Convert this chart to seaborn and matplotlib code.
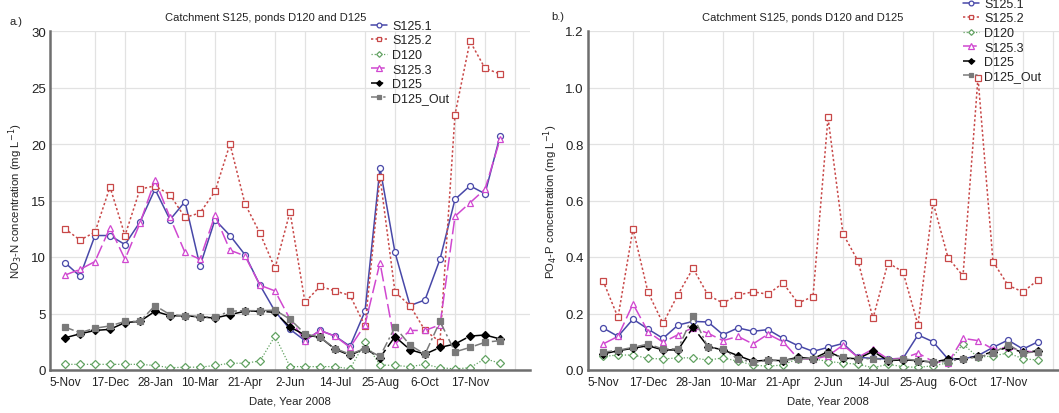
import numpy as np
import pandas as pd
import matplotlib
matplotlib.use("Agg")
import matplotlib.pyplot as plt
import seaborn as sns

# ---------------- data ----------------
dates = pd.date_range("2007-11-05", periods=30, freq="14D")
tick_labels = ["5-Nov", "17-Dec", "28-Jan", "10-Mar", "21-Apr", "2-Jun",
               "14-Jul", "25-Aug", "6-Oct", "17-Nov"]

series_names = ["S125.1", "S125.2", "D120", "S125.3", "D125", "D125_Out"]

# NO3-N (mg/L)
no3_s125_1 = [9.5, 8.3, 11.9, 11.9, 11.1, 13.1, 16.0, 13.3, 14.9, 9.2,
              13.3, 11.9, 10.2, 7.5, 5.2, 3.6, 2.6, 3.5, 3.0, 2.1,
              5.2, 17.9, 10.4, 5.7, 6.2, 9.8, 15.1, 16.3, 15.6, 20.7]
no3_s125_2 = [12.5, 11.5, 12.2, 16.2, 11.9, 16.0, 16.3, 15.5, 13.5, 13.9,
              15.8, 20.0, 14.7, 12.1, 9.0, 14.0, 6.0, 7.4, 7.0, 6.6,
              3.9, 17.1, 6.9, 5.7, 3.5, 2.5, 22.6, 29.1, 26.7, 26.2]
no3_d120 = [0.5, 0.5, 0.5, 0.5, 0.5, 0.5, 0.4, 0.2, 0.25, 0.25,
            0.4, 0.6, 0.6, 0.8, 3.0, 0.3, 0.3, 0.3, 0.3, 0.1,
            2.45, 0.45, 0.4, 0.3, 0.5, 0.2, 0.1, 0.2, 1.0, 0.6]
no3_s125_3 = [8.4, 8.9, 9.6, 12.6, 9.8, 13.0, 16.8, 13.5, 10.4, 9.8,
              13.7, 10.6, 10.1, 7.5, 7.0, 4.5, 2.6, 3.5, 3.0, 2.0,
              4.0, 9.5, 2.3, 3.5, 3.5, 4.0, 13.6, 14.8, 16.0, 20.4]
no3_d125 = [2.85, 3.2, 3.5, 3.6, 4.2, 4.3, 5.2, 4.8, 4.8, 4.7,
            4.6, 4.9, 5.2, 5.2, 5.1, 3.8, 3.1, 2.9, 1.85, 1.3,
            1.9, 1.1, 2.95, 1.8, 1.4, 2.0, 2.3, 3.0, 3.1, 2.75]
no3_d125_out = [3.8, 3.3, 3.7, 3.9, 4.3, 4.3, 5.7, 4.9, 4.8, 4.7,
                4.7, 5.2, 5.25, 5.25, 5.3, 4.5, 3.2, 2.9, 1.9, 1.4,
                1.9, 1.2, 3.8, 2.2, 1.4, 4.3, 1.6, 2.0, 2.45, 2.6]

# PO4-P (mg/L)
po4_s125_1 = [0.149, 0.119, 0.180, 0.145, 0.112, 0.159, 0.172, 0.170, 0.125, 0.149,
              0.137, 0.143, 0.112, 0.086, 0.066, 0.080, 0.094, 0.045, 0.041, 0.039,
              0.041, 0.124, 0.100, 0.039, 0.039, 0.051, 0.080, 0.106, 0.074, 0.100]
po4_s125_2 = [0.316, 0.186, 0.500, 0.275, 0.165, 0.267, 0.360, 0.265, 0.237, 0.265,
              0.277, 0.268, 0.308, 0.237, 0.260, 0.894, 0.482, 0.386, 0.183, 0.380,
              0.347, 0.160, 0.594, 0.398, 0.333, 1.035, 0.384, 0.300, 0.276, 0.319]
po4_d120 = [0.048, 0.053, 0.053, 0.041, 0.039, 0.043, 0.043, 0.035, 0.043, 0.031,
            0.018, 0.013, 0.018, 0.040, 0.040, 0.030, 0.025, 0.020, 0.008, 0.020,
            0.012, 0.009, 0.015, 0.025, 0.092, 0.045, 0.050, 0.060, 0.040, 0.035]
po4_s125_3 = [0.092, 0.119, 0.234, 0.136, 0.098, 0.125, 0.150, 0.130, 0.104, 0.119,
              0.092, 0.127, 0.100, 0.041, 0.038, 0.050, 0.088, 0.045, 0.074, 0.039,
              0.041, 0.060, 0.030, 0.025, 0.112, 0.104, 0.074, 0.080, 0.068, 0.062]
po4_d125 = [0.057, 0.068, 0.077, 0.086, 0.071, 0.071, 0.151, 0.083, 0.071, 0.051,
            0.031, 0.035, 0.033, 0.045, 0.040, 0.065, 0.042, 0.040, 0.066, 0.033,
            0.036, 0.033, 0.028, 0.038, 0.040, 0.048, 0.065, 0.080, 0.062, 0.068]
po4_d125_out = [0.063, 0.070, 0.080, 0.092, 0.074, 0.075, 0.192, 0.080, 0.074, 0.040,
                0.027, 0.034, 0.034, 0.040, 0.040, 0.055, 0.045, 0.040, 0.040, 0.035,
                0.040, 0.033, 0.028, 0.030, 0.040, 0.045, 0.060, 0.090, 0.060, 0.065]

no3_values = [no3_s125_1, no3_s125_2, no3_d120, no3_s125_3, no3_d125, no3_d125_out]
po4_values = [po4_s125_1, po4_s125_2, po4_d120, po4_s125_3, po4_d125, po4_d125_out]

# ---------------- styles ----------------
styles = {
    "S125.1":   dict(color="#4848a8", marker="o", linestyle="-",  mfc="white", lw=1.1),
    "S125.2":   dict(color="#c84848", marker="s", linestyle=(0, (1.5, 1.5)), mfc="white", lw=1.1),
    "D120":     dict(color="#62a262", marker="D", linestyle=(0, (1, 1.5)), mfc="white", lw=0.9),
    "S125.3":   dict(color="#d048d0", marker="^", linestyle=(0, (9, 3)), mfc="white", lw=1.1),
    "D125":     dict(color="#000000", marker="D", linestyle=(0, (8, 2.5)), mfc="#000000", lw=1.1),
    "D125_Out": dict(color="#7a7a7a", marker="s", linestyle=(0, (6, 2, 1.5, 2)), mfc="#7a7a7a", lw=1.1),
}
msize = {"o": 4.3, "s": 4.3, "D": 3.6, "^": 4.8}

sns.set_style("white")
plt.rcParams["font.family"] = ["Liberation Sans", "DejaVu Sans"]

W, H = 1059, 414
fig = plt.figure(figsize=(W / 100, H / 100), dpi=100)

ax_l = fig.add_axes([50 / W, 43 / H, 480 / W, 339 / H])
ax_r = fig.add_axes([588 / W, 43 / H, 480 / W, 339 / H])

step = pd.Timedelta(days=14)
minor_pos = pd.date_range(dates[0], periods=16, freq="28D")

def draw(ax, values, ymax, yticks, yfmt, ylabel):
    for name, vals in zip(series_names, values):
        st = styles[name]
        sns.lineplot(x=dates, y=vals, ax=ax, color=st["color"], linestyle=st["linestyle"],
                     linewidth=st["lw"], marker=st["marker"], markersize=msize[st["marker"]],
                     markerfacecolor=st["mfc"], markeredgecolor=st["color"],
                     markeredgewidth=0.9, label=name, legend=False)
    ax.set_xlim(dates[0] - step, dates[0] + 31 * step)
    ax.set_ylim(0, ymax)
    ax.set_xticks(dates[::3])
    ax.set_xticklabels(tick_labels)
    ax.set_xticks(minor_pos, minor=True)
    ax.set_yticks(yticks)
    ax.set_yticklabels([yfmt.format(v) for v in yticks])
    ax.grid(False)
    ax.grid(True, which="minor", axis="x", color="#e2e2e2", lw=0.9)
    ax.grid(True, which="major", axis="y", color="#e2e2e2", lw=0.9)
    ax.set_axisbelow(True)
    ax.tick_params(axis="x", which="major", length=0, labelsize=8.5, pad=4, colors="#222222")
    ax.tick_params(axis="x", which="minor", length=3, width=0.8, color="#555555", direction="in")
    ax.tick_params(axis="y", length=3, width=0.8, direction="in", labelsize=9.5,
                   colors="#222222", pad=3)
    for s in ["top", "right"]:
        ax.spines[s].set_visible(False)
    for s in ["left", "bottom"]:
        ax.spines[s].set_color("#6e6e6e")
        ax.spines[s].set_linewidth(1.8)
    ax.set_xlabel("Date, Year 2008", fontsize=8.2, labelpad=6, color="#222222")
    ax.set_ylabel(ylabel, fontsize=8.2, labelpad=4, color="#222222")

draw(ax_l, no3_values, 30, [0, 5, 10, 15, 20, 25, 30], "{:.0f}",
     "NO$_3$-N concentration (mg L$^{-1}$)")
draw(ax_r, po4_values, 1.2, [0.0, 0.2, 0.4, 0.6, 0.8, 1.0, 1.2], "{:.1f}",
     "PO$_4$-P concentration (mg L$^{-1}$)")

# titles and panel labels
fig.text(266 / W, 1 - 18 / H, "Catchment S125, ponds D120 and D125", ha="center",
         va="center", fontsize=8, color="#222222")
fig.text(803 / W, 1 - 18 / H, "Catchment S125, ponds D120 and D125", ha="center",
         va="center", fontsize=8, color="#222222")
fig.text(9 / W, 1 - 22 / H, "a.)", ha="left", va="center", fontsize=8, color="#222222")
fig.text(551 / W, 1 - 17 / H, "b.)", ha="left", va="center", fontsize=8, color="#222222")

# legends
for ax, x0, y0 in [(ax_l, 371, 21), (ax_r, 963, -1)]:
    h, l = ax.get_legend_handles_labels()
    leg = fig.legend(h, l, loc="upper left", bbox_to_anchor=(x0 / W, 1 - y0 / H),
                     bbox_transform=fig.transFigure, frameon=False, fontsize=9,
                     handlelength=1.3, handletextpad=0.4, labelspacing=0.2,
                     borderpad=0, borderaxespad=0, markerscale=0.8)
    for t in leg.get_texts():
        t.set_color("#222222")

fig.savefig("out.png", dpi=100)
